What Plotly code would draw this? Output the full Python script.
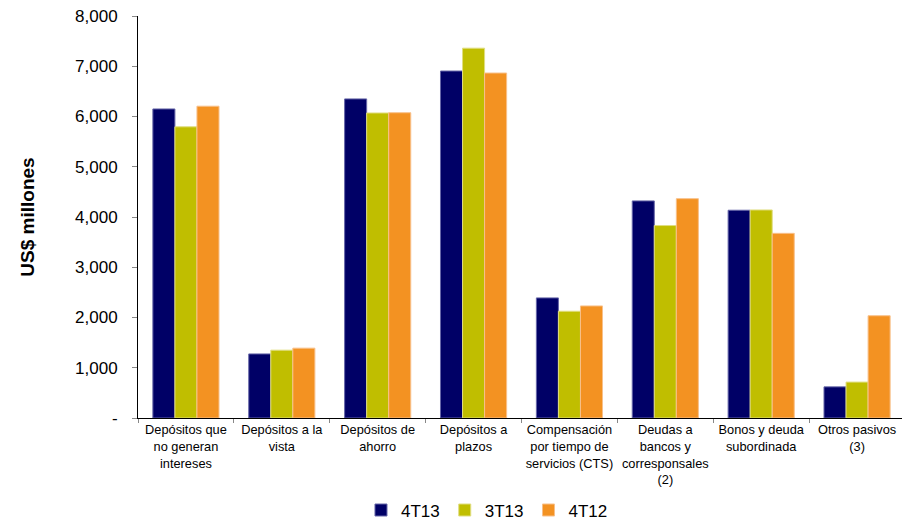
import plotly.graph_objects as go

categories = [
    "Depósitos que<br>no generan<br>intereses",
    "Depósitos a la<br>vista",
    "Depósitos de<br>ahorro",
    "Depósitos a<br>plazos",
    "Compensación<br>por tiempo de<br>servicios (CTS)",
    "Deudas a<br>bancos y<br>corresponsales<br>(2)",
    "Bonos y deuda<br>subordinada",
    "Otros pasivos<br>(3)",
]
s_4T13 = [6150, 1275, 6350, 6905, 2390, 4320, 4135, 620]
s_3T13 = [5795, 1350, 6070, 7360, 2125, 3830, 4140, 715]
s_4T12 = [6205, 1390, 6075, 6865, 2230, 4365, 3675, 2035]
series_names = ["4T13", "3T13", "4T12"]
colors = ["#000066", "#C0BE00", "#F39222"]
line_colors = ["#6666A8", "#E0DE80", "#F8C08A"]
ytick_vals = [0, 1000, 2000, 3000, 4000, 5000, 6000, 7000, 8000]
ytick_text = ["-", "1,000", "2,000", "3,000", "4,000", "5,000", "6,000", "7,000", "8,000"]

fig = go.Figure()
for name, vals, c, lc in zip(series_names, [s_4T13, s_3T13, s_4T12], colors, line_colors):
    fig.add_trace(go.Bar(
        name=name, x=categories, y=vals,
        marker=dict(color=c, line=dict(color=lc, width=1)),
    ))

fig.update_layout(
    width=902, height=512,
    margin=dict(l=130, r=5, t=8, b=102, autoexpand=False),
    paper_bgcolor="white", plot_bgcolor="white",
    barmode="group", bargap=0.31, bargroupgap=0,
    font=dict(family="Liberation Sans, Arial, sans-serif", color="black"),
    legend=dict(orientation="h", x=0.455, xanchor="center", y=-0.23, yanchor="middle",
                font=dict(size=17), itemwidth=30, traceorder="normal"),
    showlegend=True,
)
fig.update_xaxes(
    type="category", tickson="boundaries", ticks="outside", ticklen=4,
    tickcolor="#888888", showline=True, linecolor="black", linewidth=1,
    tickfont=dict(size=12.8), showgrid=False, tickangle=0, automargin=False,
)
fig.update_yaxes(
    range=[0, 8000], tickvals=ytick_vals, ticktext=ytick_text,
    ticks="outside", ticklen=5, tickcolor="#888888", ticklabelstandoff=11,
    ticklabeloverflow="allow",
    showline=True, linecolor="black", linewidth=1, showgrid=False,
    tickfont=dict(size=17), zeroline=False, automargin=False,
    title=dict(text="<b>US$ millones</b>", font=dict(size=19), standoff=35),
)
fig.write_html("out.html")
